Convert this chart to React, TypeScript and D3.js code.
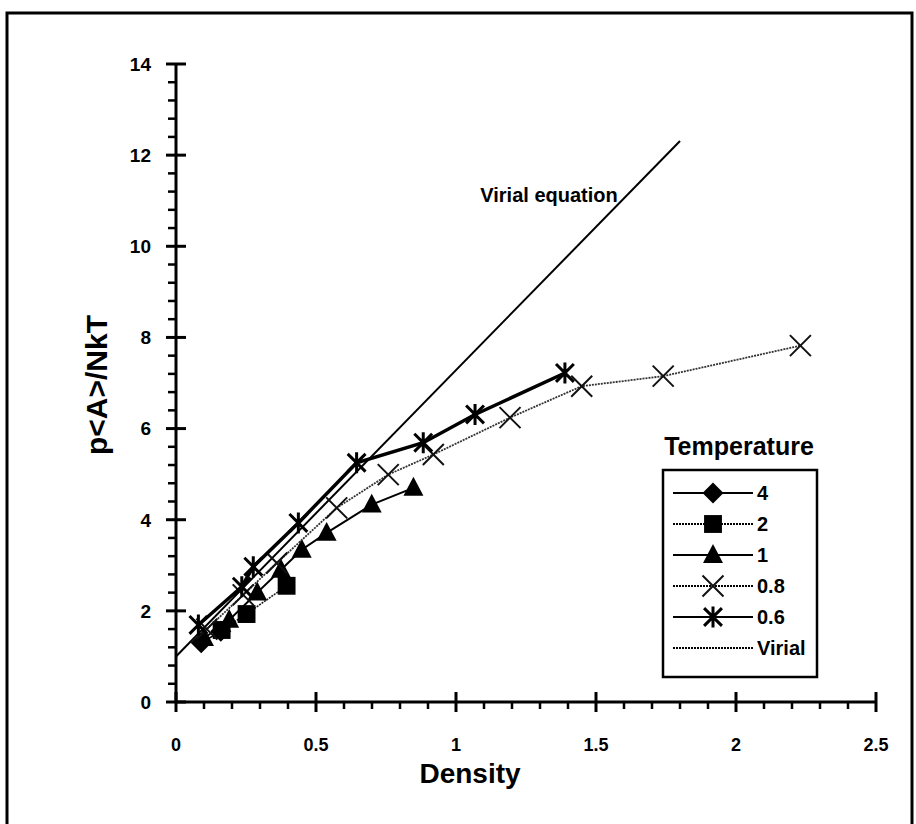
import React from "react";
import * as d3 from "d3";

const yTicks = [0, 2, 4, 6, 8, 10, 12, 14];
const xTicks = [0, 0.5, 1, 1.5, 2, 2.5];
const xTickLabels = ["0", "0.5", "1", "1.5", "2", "2.5"];

const t4x = [0.09, 0.16];
const t4y = [1.3, 1.55];
const t2x = [0.163, 0.252, 0.395];
const t2y = [1.58, 1.93, 2.55];
const t1x = [0.1, 0.19, 0.29, 0.375, 0.449, 0.538, 0.699, 0.848];
const t1y = [1.4, 1.8, 2.4, 2.9, 3.34, 3.71, 4.33, 4.7];
const t08x = [0.11, 0.24, 0.36, 0.574, 0.758, 0.919, 1.193, 1.449, 1.74, 2.23];
const t08y = [1.6, 2.35, 3.05, 4.26, 4.99, 5.43, 6.24, 6.93, 7.15, 7.82];
const t06x = [0.08, 0.235, 0.276, 0.437, 0.645, 0.883, 1.068, 1.389];
const t06y = [1.69, 2.53, 2.97, 3.93, 5.25, 5.69, 6.31, 7.22];
const virialX = [0, 1.8];
const virialB = 2 * Math.PI;

const legendLabels = ["4", "2", "1", "0.8", "0.6", "Virial"];

const FONT = "'Liberation Sans', Arial, Helvetica, sans-serif";

type Pt = [number, number];
const zip = (xs: number[], ys: number[]): Pt[] => xs.map((x, i) => [x, ys[i]]);

function Marker({ kind, cx, cy, s }: { kind: string; cx: number; cy: number; s: number }) {
  const h = s / 2;
  if (kind === "diamond") {
    return <path d={`M${cx},${cy - h}L${cx + h},${cy}L${cx},${cy + h}L${cx - h},${cy}Z`} fill="#000" />;
  }
  if (kind === "square") {
    const a = h * 0.85;
    return <rect x={cx - a} y={cy - a} width={2 * a} height={2 * a} fill="#000" />;
  }
  if (kind === "triangle") {
    return <path d={`M${cx},${cy - h * 1.05}L${cx + h * 0.95},${cy + h * 0.75}L${cx - h * 0.95},${cy + h * 0.75}Z`} fill="#000" />;
  }
  if (kind === "x") {
    return (
      <path
        d={`M${cx - h},${cy - h}L${cx + h},${cy + h}M${cx - h},${cy + h}L${cx + h},${cy - h}`}
        stroke="#111"
        strokeWidth={2}
      />
    );
  }
  if (kind === "asterisk") {
    const a = h * 0.85;
    return (
      <path
        d={`M${cx - a},${cy - a}L${cx + a},${cy + a}M${cx - a},${cy + a}L${cx + a},${cy - a}M${cx},${cy - h}L${cx},${cy + h}`}
        stroke="#000"
        strokeWidth={3}
      />
    );
  }
  return null;
}

export default function App() {
  const W = 916;
  const H = 824;
  const x = d3.scaleLinear().domain([0, 2.5]).range([176, 876]);
  const y = d3.scaleLinear().domain([0, 14]).range([702, 64]);
  const line = d3
    .line<Pt>()
    .x((d) => x(d[0]))
    .y((d) => y(d[1]));

  const series = [
    { data: zip(t4x, t4y), kind: "diamond", width: 1.6, dash: "", color: "#000" },
    { data: zip(t2x, t2y), kind: "square", width: 1.6, dash: "2 1", color: "#222" },
    { data: zip(t1x, t1y), kind: "triangle", width: 2, dash: "", color: "#000" },
    { data: zip(t08x, t08y), kind: "x", width: 1.8, dash: "2 1", color: "#333" },
    { data: zip(t06x, t06y), kind: "asterisk", width: 3.5, dash: "", color: "#000" },
  ];

  const virialPts: Pt[] = virialX.map((v) => [v, 1 + virialB * v]);

  const yMinor = d3.range(0, 14.001, 0.4).filter((v) => Math.abs(v / 2 - Math.round(v / 2)) > 1e-6);
  const xMinor = d3.range(0, 2.5001, 0.1).filter((v) => Math.abs(v / 0.5 - Math.round(v / 0.5)) > 1e-6);

  const legendKinds = ["diamond", "square", "triangle", "x", "asterisk", ""];
  const legendDash = ["", "2 1", "", "2 1", "", "2 1"];
  const legendY = (i: number) => 493 + i * 31;

  return (
    <svg
      width={W}
      height={H}
      style={{ position: "absolute", left: 0, top: 0, background: "#fff" }}
      fontFamily={FONT}
    >
      <rect x={0} y={0} width={W} height={H} fill="#fff" />
      {/* outer frame */}
      <rect x={7} y={13} width={905} height={H + 20} fill="none" stroke="#000" strokeWidth={3} />

      {/* axes */}
      <line x1={x(0)} x2={x(0)} y1={y(14)} y2={y(0)} stroke="#000" strokeWidth={3} />
      <line x1={x(0)} x2={x(2.5)} y1={y(0)} y2={y(0)} stroke="#000" strokeWidth={3} />
      {yTicks.map((t) => (
        <g key={"yt" + t}>
          <line x1={x(0) - 10} x2={x(0) + 10} y1={y(t)} y2={y(t)} stroke="#000" strokeWidth={3} />
          <text x={151} y={y(t)} dy="0.36em" textAnchor="end" fontSize={19} fontWeight="bold">
            {t}
          </text>
        </g>
      ))}
      {yMinor.map((t) => (
        <line key={"ym" + t} x1={x(0) - 8} x2={x(0)} y1={y(t)} y2={y(t)} stroke="#000" strokeWidth={2.5} />
      ))}
      {xTicks.map((t, i) => (
        <g key={"xt" + t}>
          <line x1={x(t)} x2={x(t)} y1={y(0) - 10} y2={y(0) + 10} stroke="#000" strokeWidth={3} />
          <text x={x(t)} y={751} textAnchor="middle" fontSize={18} fontWeight="bold">
            {xTickLabels[i]}
          </text>
        </g>
      ))}
      {xMinor.map((t) => (
        <line key={"xm" + t} x1={x(t)} x2={x(t)} y1={y(0)} y2={y(0) + 7} stroke="#000" strokeWidth={2.5} />
      ))}

      {/* axis titles */}
      <text x={470} y={783} textAnchor="middle" fontSize={28} fontWeight="bold">
        Density
      </text>
      <text transform={`translate(107,385) rotate(-90)`} textAnchor="middle" fontSize={30} fontWeight="bold">
        {"p<A>/NkT"}
      </text>

      {/* virial line */}
      <path d={line(virialPts) || ""} fill="none" stroke="#000" strokeWidth={2} />
      <text x={549} y={202} textAnchor="middle" fontSize={20} fontWeight="bold">
        Virial equation
      </text>

      {/* series */}
      {series.map((s, i) => (
        <g key={"s" + i}>
          <path
            d={line(s.data) || ""}
            fill="none"
            stroke={s.color}
            strokeWidth={s.width}
            strokeDasharray={s.dash || undefined}
          />
          {s.data.map((d, j) => (
            <Marker key={j} kind={s.kind} cx={x(d[0])} cy={y(d[1])} s={21} />
          ))}
        </g>
      ))}

      {/* legend */}
      <text x={739} y={455} textAnchor="middle" fontSize={25} fontWeight="bold">
        Temperature
      </text>
      <rect x={663} y={470} width={154} height={207} fill="#fff" stroke="#000" strokeWidth={2.5} />
      {legendLabels.map((lab, i) => (
        <g key={"lg" + i}>
          <line
            x1={673}
            x2={753}
            y1={legendY(i)}
            y2={legendY(i)}
            stroke="#000"
            strokeWidth={2}
            strokeDasharray={legendDash[i] || undefined}
          />
          {legendKinds[i] && <Marker kind={legendKinds[i]} cx={713} cy={legendY(i)} s={21} />}
          <text x={757} y={legendY(i)} dy="0.36em" fontSize={20} fontWeight="bold">
            {lab}
          </text>
        </g>
      ))}
    </svg>
  );
}
